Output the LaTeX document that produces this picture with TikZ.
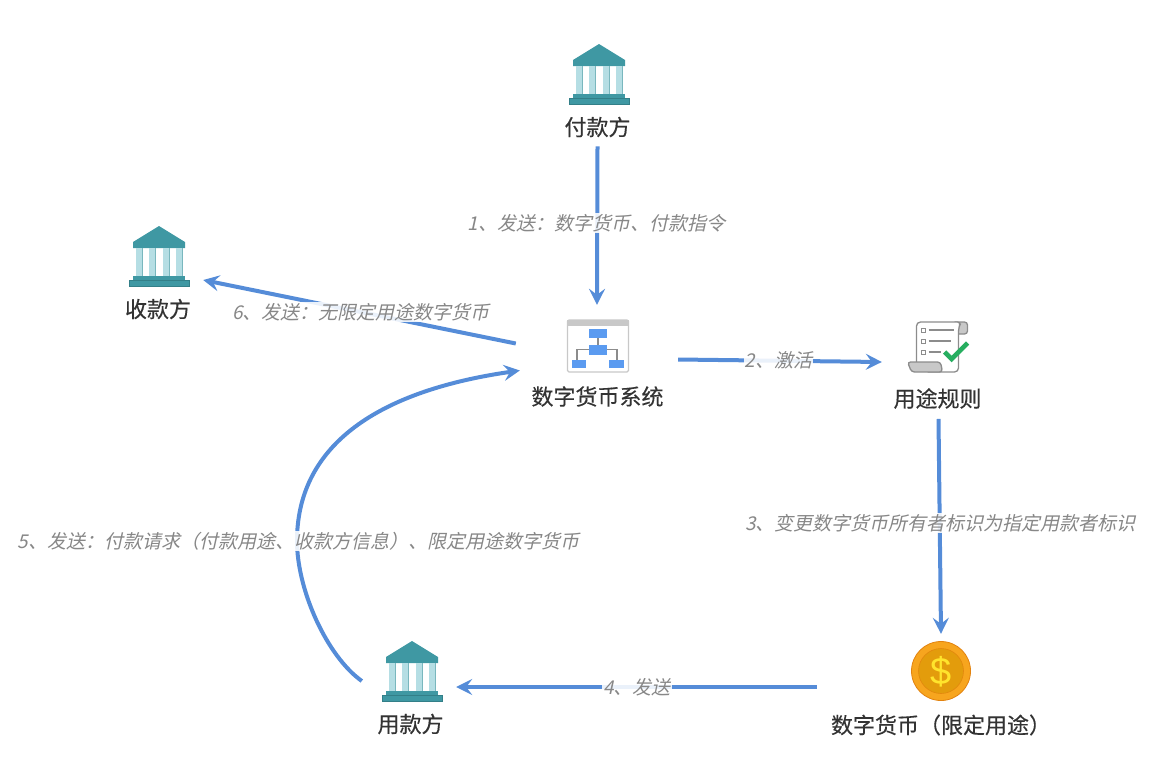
\documentclass[tikz,border=0pt]{standalone}
\usepackage{fontspec}
\setmainfont{Noto Sans CJK SC}
\newfontfamily\namefont[FakeBold=0.35]{Noto Sans CJK SC}
\newfontfamily\flowfont[FakeSlant=0.22]{Noto Sans CJK SC}
\newfontfamily\coinfont{Liberation Sans}
\usetikzlibrary{arrows.meta,positioning}
\definecolor{flowblue}{HTML}{558CD8}
\definecolor{bankteal}{HTML}{3F98A3}
\definecolor{bankedge}{HTML}{337F88}
\definecolor{banklight}{HTML}{B5DEE4}
\definecolor{panelgray}{HTML}{C8C8C8}
\definecolor{linegray}{HTML}{8C8C8C}
\definecolor{boxblue}{HTML}{5B9BF0}
\definecolor{checkgreen}{HTML}{27AE60}
\definecolor{coinouter}{HTML}{F7A51E}
\definecolor{coininner}{HTML}{E39C0C}
\definecolor{coinedge}{HTML}{E2820F}
\definecolor{coinsign}{HTML}{FFE42C}
\tikzset{
    iconbox/.style={
    rectangle,inner sep=0pt,minimum width=60pt,minimum height=60pt
    },
    namelabel/.style={
    inner sep=0pt,text=black!80,font=\fontsize{22}{24}\namefont
    },
    flowlabel/.style={
    inner sep=1pt,fill=white,fill opacity=0.88,text opacity=1,text=black!47,font=\fontsize{19}{22}\flowfont
    },
    flow/.style={
    draw=flowblue,line width=4pt,-{Stealth[length=16pt,width=16pt,inset=6pt]}
    },
    bankpic/.pic={
      \fill[bankteal] (0,-31) -- (26,-15) -- (26,-9) -- (-26,-9) -- (-26,-15) -- cycle;
      \foreach \cx in {-20,-7,7,20} {
        \fill[banklight] (\cx-3,-9) rectangle (\cx+3,19);
        \draw[bankteal!70,line width=0.8pt] (\cx+3,-9) -- (\cx+3,19);
      }
      \fill[bankteal] (-26,19) rectangle (26,23);
      \fill[bankteal,draw=bankedge,line width=0.8pt] (-30,23) rectangle (30,29);
    },
    syspic/.pic={
      \draw[panelgray,fill=white,line width=1.2pt,rounded corners=1.5pt] (-30.5,-25.5) rectangle (30.5,26.5);
      \fill[panelgray] (-31,-26) rectangle (31,-20);
      \draw[linegray,line width=1.5pt] (0,-10) -- (0,0);
      \draw[linegray,line width=1.5pt] (-21,15) -- (-21,4) -- (19,4) -- (19,15);
      \fill[boxblue] (-9,-17) rectangle (9,-8);
      \fill[boxblue] (-9,-1) rectangle (9,9);
      \fill[boxblue] (-26,14) rectangle (-12,22);
      \fill[boxblue] (11,14) rectangle (26,22);
    },
    rulepic/.pic={
      \draw[linegray,fill=panelgray,line width=1.3pt,rounded corners=3pt] (15,-25) rectangle (30,-13);
      \draw[linegray,fill=white,line width=1.3pt,rounded corners=4pt] (-21,17) -- (-21,-25) -- (24,-25) -- (21,-20) -- (21,25) -- (-10,25);
      \draw[linegray,fill=panelgray,line width=1.3pt,rounded corners=3pt] (-30,15) -- (3,15) -- (5,25) -- (-26,25) -- cycle;
      \foreach \ry/\rx in {-17/16,-6/13,5/3} {
        \draw[linegray,line width=0.9pt,fill=white] (-16,\ry-2) rectangle (-12,\ry+2);
        \draw[linegray,line width=1.6pt] (-9,\ry) -- (\rx,\ry);
      }
      \draw[checkgreen,line width=4.6pt] (7,5) -- (14,12) -- (30,-4);
    },
    coinpic/.pic={
      \draw[coinedge,fill=coinouter,line width=0.8pt] (0,0) circle (29.5);
      \draw[coinedge!80!coininner,fill=coininner,line width=0.6pt] (0,0) circle (22.5);
      \node[text=coinsign,inner sep=0pt,font=\fontsize{38}{38}\coinfont] (coinsign) at (0,1) {\$};
    },
}
\begin{document}
\begin{tikzpicture}[x=1pt,y=-1pt]
  \useasboundingbox (0,0) rectangle (1153,761);
  \node[iconbox] (payicon) at (599,75) {};
  \node[iconbox] (payeeicon) at (159,257) {};
  \node[iconbox] (usericon) at (412,672) {};
  \node[iconbox,minimum width=62pt,minimum height=53pt] (sysicon) at (598,345.5) {};
  \node[iconbox,minimum width=61pt,minimum height=50pt] (ruleicon) at (937.5,347) {};
  \node[iconbox] (coinicon) at (941,671) {};
  \pic at (payicon) {bankpic};
  \pic at (payeeicon) {bankpic};
  \pic at (usericon) {bankpic};
  \pic at (sysicon) {syspic};
  \pic at (ruleicon) {rulepic};
  \pic at (coinicon) {coinpic};

  \node[namelabel] (payname) at (597.5,127) {付款方};
  \node[namelabel] (payeename) at (158,309) {收款方};
  \node[namelabel] (sysname) at (597.5,396.5) {数字货币系统};
  \node[namelabel] (rulename) at (937.5,398.5) {用途规则};
  \node[namelabel] (username) at (410.5,724) {用款方};
  \node[namelabel] (coinname) at (941,725) {数字货币（限定用途）};

  \path[every edge/.append style={flow}]
    ([shift={(0,9)}]payname.south) edge node[flowlabel,pos=0.485,xshift=-1pt] {1、发送：数字货币、付款指令} ([shift={(-1,-14)}]sysicon.north)
    ([shift={(49,14)}]sysicon.east) edge node[flowlabel,xshift=-1.5pt] {2、激活} ([shift={(-25,15)}]ruleicon.west)
    ([shift={(1,10)}]rulename.south) edge node[flowlabel,pos=0.485,xshift=1pt] {3、变更数字货币所有者标识为指定用款者标识} ([shift={(0,-7)}]coinicon.north)
    ([shift={(-94,16)}]coinicon.west) edge node[flowlabel,pos=0.49,xshift=-3pt] {4、发送} ([shift={(14,15)}]usericon.east)
    ([shift={(-51,-2)}]sysicon.west) edge node[flowlabel,xshift=1.5pt] {6、发送：无限定用途数字货币} ([shift={(14,23)}]payeeicon.east);
  \draw[flow]
    ([shift={(-20,9)}]usericon.west) .. controls +(-35,-25) and (297,590) .. (297,541)
    node[flowlabel,xshift=1.5pt] (reqlabel) {5、发送：付款请求（付款用途、收款方信息）、限定用途数字货币}
    .. controls (297,450) and (370,392) .. ([shift={(-47,25)}]sysicon.west);
\end{tikzpicture}
\end{document}
